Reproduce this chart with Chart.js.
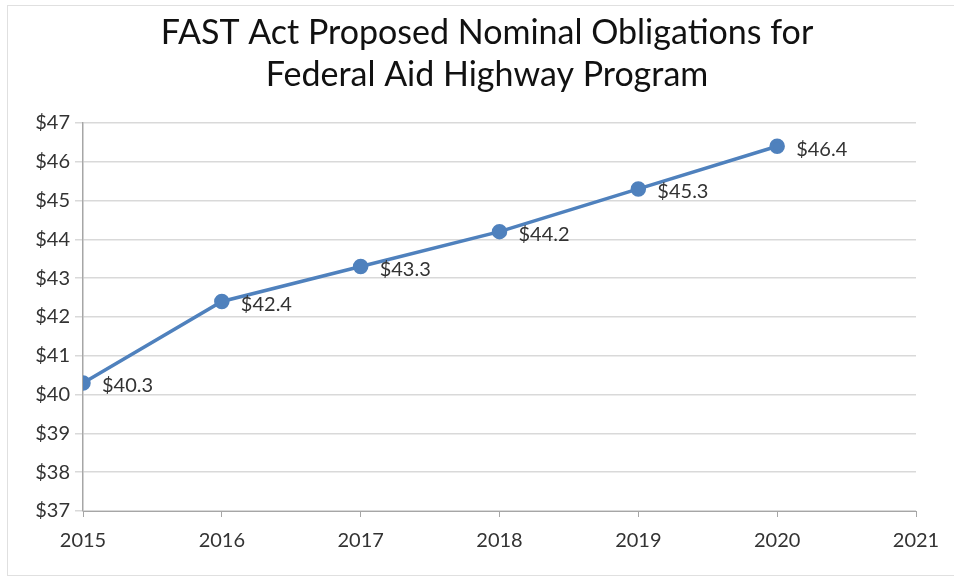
<!DOCTYPE html>
<html>
<head>
<meta charset="utf-8">
<script src="https://cdn.jsdelivr.net/npm/chart.js@4.4.1/dist/chart.umd.min.js"></script>
<style>
  html, body { margin: 0; padding: 0; background: #fff; }
  #wrap { width: 954px; height: 578px; }
</style>
</head>
<body>
<div id="wrap"><canvas id="chart"></canvas></div>
<script>
// data
const years = [2015, 2016, 2017, 2018, 2019, 2020];
const obligations = [40.3, 42.4, 43.3, 44.2, 45.3, 46.4];
const titleLines = ["FAST Act Proposed Nominal Obligations for", "Federal Aid Highway Program"];
const yMin = 37, yMax = 47;
const xMin = 2015, xMax = 2021;

const FONT = "Lato, 'Liberation Sans', sans-serif";

// light frame round the chart (right edge falls off the picture)
const framePlugin = {
  id: "frame",
  beforeDraw(chart) {
    const { ctx } = chart;
    ctx.save();
    ctx.strokeStyle = "#e0e0e0";
    ctx.lineWidth = 1;
    ctx.strokeRect(7.5, 5.5, 960, 570);
    ctx.restore();
  }
};

// "$xx.x" labels to the right of each point
const valueLabels = {
  id: "valueLabels",
  afterDatasetsDraw(chart) {
    const { ctx } = chart;
    const meta = chart.getDatasetMeta(0);
    ctx.save();
    ctx.font = "20px " + FONT;
    ctx.fillStyle = "#333333";
    ctx.textAlign = "left";
    ctx.textBaseline = "middle";
    meta.data.forEach((pt, i) => {
      ctx.fillText("$" + obligations[i].toFixed(1), pt.x + 19, pt.y + 3);
    });
    ctx.restore();
  }
};

const ctx = document.getElementById("chart");
new Chart(ctx, {
  type: "line",
  data: {
    datasets: [{
      data: years.map((y, i) => ({ x: y, y: obligations[i] })),
      borderColor: "#4f81bd",
      backgroundColor: "#4f81bd",
      borderWidth: 3.5,
      pointRadius: 6,
      pointBackgroundColor: "#4f81bd",
      pointBorderColor: "#4f81bd",
      tension: 0
    }]
  },
  options: {
    responsive: true,
    maintainAspectRatio: false,
    animation: false,
    layout: { padding: { left: 20, right: 0, top: 0, bottom: 0 } },
    plugins: {
      legend: { display: false },
      tooltip: { enabled: false },
      title: {
        display: true,
        text: titleLines,
        color: "#111111",
        font: { family: FONT, size: 34, weight: "normal", lineHeight: 1.235 },
        padding: { top: 12, bottom: 27 }
      }
    },
    scales: {
      x: {
        type: "linear",
        min: xMin,
        max: xMax,
        afterFit(s) { s.height = 67; },
        ticks: {
          stepSize: 1,
          color: "#333333",
          font: { family: FONT, size: 20 },
          padding: 12,
          maxRotation: 0,
          callback: v => String(v)
        },
        grid: {
          drawOnChartArea: false,
          drawTicks: true,
          tickLength: 6,
          color: "#a6a6a6"
        },
        border: { color: "#a6a6a6", width: 1 }
      },
      y: {
        min: yMin,
        max: yMax,
        afterFit(s) { s.width = 63; },
        ticks: {
          stepSize: 1,
          color: "#333333",
          font: { family: FONT, size: 20 },
          padding: 5,
          callback: v => "$" + v
        },
        grid: {
          color: "#d9d9d9",
          lineWidth: 1.5,
          tickLength: 8,
          tickColor: "#d9d9d9"
        },
        border: { color: "#a6a6a6", width: 1.5 }
      },
      // empty right-hand axis only to keep the plot's right edge at 2021
      yRight: {
        position: "right",
        min: yMin,
        max: yMax,
        afterFit(s) { s.width = 38; },
        ticks: { display: false },
        grid: { drawOnChartArea: false, drawTicks: false },
        border: { display: false }
      }
    }
  },
  plugins: [framePlugin, valueLabels]
});
</script>
</body>
</html>
